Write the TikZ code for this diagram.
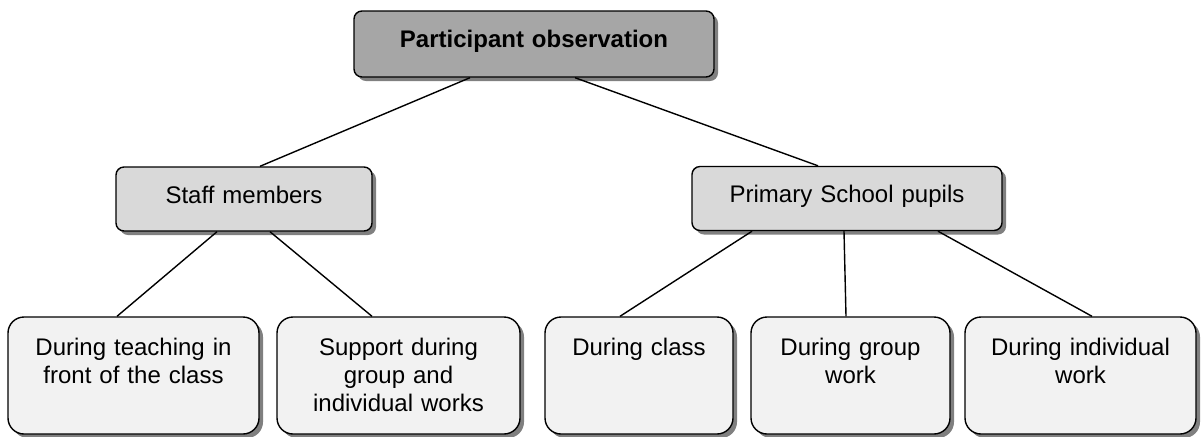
\documentclass[tikz,border=0pt]{standalone}
\usepackage{fontspec}
\setmainfont{Liberation Sans}
\usetikzlibrary{shadows}
\definecolor{rootFill}{HTML}{A6A6A6}
\definecolor{midFill}{HTML}{D9D9D9}
\definecolor{leafFill}{HTML}{F2F2F2}
\definecolor{shade}{HTML}{808080}

\begin{document}
\begin{tikzpicture}[x=0.5pt,y=-0.5pt,base/.style={draw,line width=0.7pt,align=center,inner xsep=0pt,inner ysep=0pt,font=\fontsize{12}{14}\selectfont,general shadow={fill=shade,shadow xshift=2pt,shadow yshift=-2pt}},root/.style={base,fill=rootFill,rounded corners=4pt,font=\fontsize{12}{14}\selectfont\bfseries,text height=18pt,text depth=15pt},mid/.style={base,fill=midFill,rounded corners=4pt,text height=18pt,text depth=14pt},leaf/.style={base,fill=leafFill,rounded corners=8pt,text height=19pt,text depth=39.5pt},link/.style={line width=0.7pt}]
    \useasboundingbox (0,0) rectangle (1204,436);
    \node[root,text width=180pt] (obs) at (534,44) {Participant observation};
    \node[mid,text width=128pt] (staff) at (244,199) {Staff members};
    \node[mid,text width=155pt] (pupils) at (847,198.5) {Primary School pupils};
    \node[leaf,text width=125.5pt] (front) at (133.5,375.5) {During teaching in\\front of the class};
    \node[leaf,text width=121.5pt] (support) at (398.5,375.5) {Support during\\group and\\individual works};
    \node[leaf,text width=94pt] (class) at (639,375.5) {During class};
    \node[leaf,text width=99.5pt] (group) at (850.5,375.5) {During group\\work};
    \node[leaf,text width=115.5pt] (indiv) at (1080.5,375.5) {During individual\\work};
    \draw[link] ([xshift=-32pt]obs.south)--([xshift=8pt]staff.north);
    \draw[link] ([xshift=20.5pt]obs.south)--([xshift=-14.5pt]pupils.north);
    \draw[link] ([xshift=-13.5pt]staff.south)--([xshift=-8.25pt]front.north);
    \draw[link] ([xshift=13pt]staff.south)--([xshift=-13.25pt]support.north);
    \draw[link] ([xshift=-47.5pt]pupils.south)--([xshift=-9.5pt]class.north);
    \draw[link] ([xshift=-1.5pt]pupils.south)--([xshift=-2.25pt]group.north);
    \draw[link] ([xshift=45.5pt]pupils.south)--([xshift=5.75pt]indiv.north);
  \end{tikzpicture}
\end{document}
